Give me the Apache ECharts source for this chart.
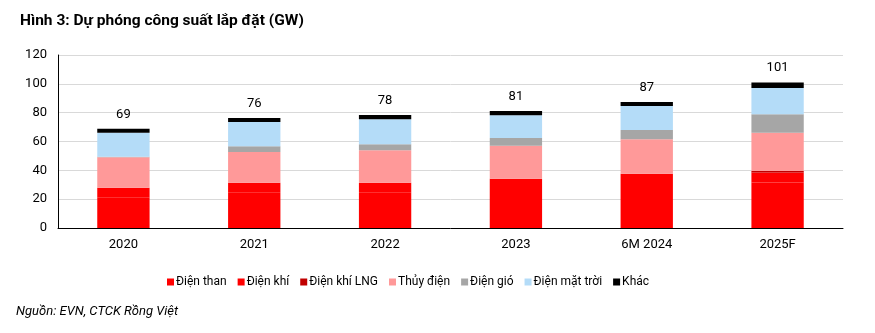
<!DOCTYPE html>
<html><head><meta charset="utf-8">
<script src="https://cdn.jsdelivr.net/npm/echarts@6/dist/echarts.min.js"></script>
<style>html,body{margin:0;padding:0;background:#fff}#c{width:875px;height:333px}</style>
</head><body><div id="c"></div>
<script>
const categories = ['2020','2021','2022','2023','6M 2024','2025F'];
const dienThan = [21, 24.4, 24.4, 27, 30.5, 31.5];
const dienKhi = [7, 7, 7, 7.1, 7.1, 7];
const dienKhiLNG = [0, 0, 0, 0, 0, 1];
const thuyDien = [21, 21.4, 22.6, 22.9, 24, 26.5];
const dienGio = [0.5, 3.9, 4.1, 5.5, 6.4, 12.9];
const dienMatTroi = [16.5, 16.9, 17.3, 15.7, 16.6, 18.2];
const khac = [2.8, 2.7, 3, 3, 2.8, 3.9];
const totals = [69, 76, 78, 81, 87, 101];
const yTicks = [0, 20, 40, 60, 80, 100, 120];

const names = ['Điện than','Điện khí','Điện khí LNG','Thủy điện','Điện gió','Điện mặt trời','Khác'];
const datas = [dienThan, dienKhi, dienKhiLNG, thuyDien, dienGio, dienMatTroi, khac];
const colors = ['#FF0000','#FF0000','#C00000','#FF9999','#A6A6A6','#B4DCF8','#000000'];

const series = names.map((n, i) => ({
  name: n, type: 'bar', stack: 'total', barWidth: '40%',
  data: datas[i], itemStyle: { color: colors[i] },
  label: i === names.length - 1 ? {
    show: true, position: 'top', distance: 8, color: '#000',
    fontFamily: 'Roboto', fontSize: 13,
    formatter: p => totals[p.dataIndex]
  } : { show: false }
}));

const chart = echarts.init(document.getElementById('c'), null, { renderer: 'canvas' });
chart.setOption({
  animation: false,
  title: {
    text: 'Hình 3: Dự phóng công suất lắp đặt (GW)', left: 15, top: 8,
    textStyle: { fontFamily: 'Roboto', fontWeight: 'bold', fontSize: 15.5, color: '#000' }
  },
  graphic: [{
    type: 'text', left: 16, top: 305,
    style: { text: 'Nguồn: EVN, CTCK Rồng Việt', font: 'italic 13px Roboto', fill: '#000' }
  }],
  legend: {
    left: 162, top: 271, itemWidth: 7, itemHeight: 7, itemGap: 11, icon: 'rect',
    textStyle: { fontFamily: 'Roboto', fontSize: 12, color: '#000', padding: [0,0,0,-3] },
    data: names
  },
  grid: { left: 58, right: 32, top: 55, bottom: 105, containLabel: false },
  xAxis: {
    type: 'category', data: categories,
    axisLine: { lineStyle: { color: '#000', width: 1 } },
    axisTick: { show: false },
    axisLabel: { fontFamily: 'Roboto', fontSize: 13, color: '#000', margin: 10 }
  },
  yAxis: {
    type: 'value', min: yTicks[0], max: yTicks[yTicks.length - 1], interval: 20,
    axisLine: { show: true, lineStyle: { color: '#000' } },
    axisTick: { show: false },
    axisLabel: { fontFamily: 'Roboto', fontSize: 13, color: '#000', margin: 11 },
    splitLine: { lineStyle: { color: '#D9D9D9' } }
  },
  series: series
});
</script></body></html>
